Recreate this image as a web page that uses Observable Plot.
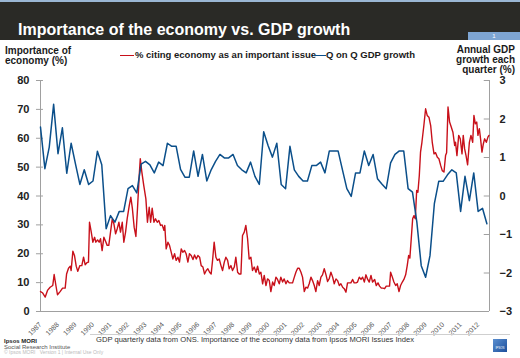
<!DOCTYPE html>
<html><head><meta charset="utf-8">
<script src="https://cdn.jsdelivr.net/npm/d3@7"></script>
<script src="https://cdn.jsdelivr.net/npm/@observablehq/plot@0.6"></script>
<style>
body{margin:0;background:#fff;}
#page{position:relative;width:520px;height:358px;overflow:hidden;font-family:"Liberation Sans",Arial,sans-serif;background:#fff;}
#header{position:absolute;left:0;top:0;width:520px;height:40px;background:#2a2a26;border-top:2px solid #9ab6d3;box-sizing:border-box;}
#title{position:absolute;left:18px;top:20px;color:#fff;font-weight:bold;font-size:16px;line-height:16px;white-space:nowrap;}
#pagebox{position:absolute;left:468px;top:32px;width:52px;height:8px;background:#7ea5d2;color:#fff;font-size:6px;line-height:8px;text-align:center;}
.atitle{position:absolute;font-weight:bold;font-size:10px;line-height:10px;color:#1a1a1a;white-space:nowrap;}
#ltitle{left:5px;top:45.5px;}
#rtitle{right:5px;top:44.5px;text-align:right;}
.lg{position:absolute;font-weight:bold;font-size:9.5px;line-height:9.5px;top:50px;color:#1a1a1a;white-space:nowrap;}
.sw{position:absolute;top:54.5px;height:1.5px;}
#chart{position:absolute;left:0;top:70px;}
#sep{position:absolute;left:90px;top:334px;width:420px;height:1px;background:#cfcfcf;}
#source{position:absolute;left:96px;top:336px;font-size:7.6px;line-height:7.6px;color:#333;white-space:nowrap;}
.foot{position:absolute;left:4px;white-space:nowrap;}
#logo{position:absolute;left:493px;top:339px;width:14px;height:13px;background:linear-gradient(135deg,#5b8fd0,#1c4f9c);color:#fff;font-size:3px;line-height:3px;text-align:center;}
</style></head>
<body>
<div id="page">
  <div id="header"><div id="title">Importance of the economy vs. GDP growth</div></div>
  <div id="pagebox">1</div>
  <div class="atitle" id="ltitle">Importance of<br>economy (%)</div>
  <div class="atitle" id="rtitle">Annual GDP<br>growth each<br>quarter (%)</div>
  <div class="sw" style="left:120px;width:14px;background:#c8101a"></div>
  <div class="lg" style="left:135px">% citing economy as an important issue</div>
  <div class="sw" style="left:313px;width:13px;background:#0b4f8a"></div>
  <div class="lg" style="left:326px">Q on Q GDP growth</div>
  <div id="chart"></div>
  <div id="sep"></div>
  <div id="source">GDP quarterly data from ONS. Importance of the economy data from Ipsos MORI Issues Index</div>
  <div class="foot" style="top:337.5px;font-size:6px;line-height:6px;font-weight:bold;color:#222">Ipsos MORI</div>
  <div class="foot" style="top:343.5px;font-size:6px;line-height:6px;color:#555">Social Research Institute</div>
  <div class="foot" style="top:349.5px;font-size:5px;line-height:5px;color:#bbb">© Ipsos MORI &nbsp; Version 1 | Internal Use Only</div>
  <div id="logo"><div style="padding-top:8px">IPSOS</div></div>
</div>
<script>
// ---- Data ----
const yearTicks = [1987,1988,1989,1990,1991,1992,1993,1994,1995,1996,1997,1998,1999,2000,2001,2002,2003,2004,2005,2006,2007,2008,2009,2010,2011,2012];
const leftTicks = [0,10,20,30,40,50,60,70,80];
const rightTicks = [-3,-2,-1,0,1,2,3];

// Q on Q GDP growth (%), quarterly from 1987 Q1
const gdpStartYear = 1987;
const gdpGrowth = [
 1.79,0.71,1.27,2.38, 1.10,1.77,0.59,1.37, 0.83,0.30,0.68,0.30, 0.39,1.16,0.81,-0.85,
 -0.51,-0.68,-0.40,-0.40, 0.19,0.27,0.08,0.83, 0.90,0.81,0.60,0.88, 0.79,1.37,1.29,1.29,
 0.69,0.49,0.49,1.17, 0.51,1.08,0.39,0.68, 0.90,1.08,0.99,0.99, 1.08,0.79,0.68,0.60,
 0.88,0.51,0.30,1.67, 1.31,1.01,1.37,0.30, 0.19,1.29,0.68,0.51, 0.39,0.39,0.79,0.79,
 0.88,0.60,1.17,1.17, 1.17,0.68,0.19,-0.01, 0.60,0.60,1.17,0.79, 1.08,0.45,0.31,0.19,
 0.86,1.08,1.17,1.17, 0.19,0.10,-0.68,-1.81, -2.11,-1.55,-0.20,0.38, 0.38,0.55,0.68,0.60,
 -0.40,0.51,-0.12,0.60, -0.40,-0.32,-0.72
];

// % citing economy as an important issue (date as decimal year, value %)
const econYear = [
 1987.00,1987.11,1987.27,1987.40,1987.55,1987.70,1987.78,1987.88,1987.97,1988.12,1988.26,1988.41,1988.49,1988.60,1988.70,1988.75,1988.85,1988.94,
 1989.04,1989.13,1989.25,1989.36,1989.46,1989.55,1989.65,1989.74,1989.80,1989.90,1989.99,1990.09,1990.16,1990.26,1990.35,1990.43,1990.52,1990.62,
 1990.71,1990.81,1990.90,1991.00,1991.10,1991.19,1991.29,1991.38,1991.48,1991.57,1991.67,1991.76,1991.86,1991.95,1992.07,1992.16,1992.25,1992.35,
 1992.45,1992.54,1992.64,1992.70,1992.79,1992.90,1993.02,1993.11,1993.21,
 1993.29,1993.38,1993.48,1993.57,1993.67,1993.76,1993.86,1993.95,1994.05,1994.10,1994.18,1994.28,1994.37,1994.47,1994.56,1994.66,1994.75,1994.85,
 1994.94,1995.04,1995.13,1995.23,1995.32,1995.42,1995.51,1995.61,1995.71,1995.80,1995.90,1995.99,1996.09,1996.18,1996.28,1996.37,1996.47,1996.56,
 1996.66,1996.75,1996.83,1996.92,1997.02,1997.11,1997.21,1997.31,1997.40,1997.50,1997.59,1997.69,1997.78,1997.88,1997.97,1998.07,1998.16,1998.26,
 1998.35,1998.45,1998.54,1998.64,1998.73,1998.83,1998.92,1999.02,1999.11,1999.21,1999.31,1999.40,1999.50,1999.59,
 1999.69,1999.78,1999.88,1999.97,2000.07,2000.16,2000.26,2000.35,2000.45,2000.54,2000.64,2000.73,2000.83,2000.92,2001.02,2001.11,2001.21,2001.31,
 2001.40,2001.50,2001.59,2001.69,2001.78,2001.88,2001.97,2002.07,2002.16,2002.26,2002.35,2002.45,2002.54,2002.64,2002.73,2002.83,2002.92,2003.02,
 2003.11,2003.21,2003.31,2003.40,2003.50,2003.59,2003.69,2003.78,2003.88,2003.97,2004.07,2004.16,2004.26,2004.35,2004.45,2004.54,2004.64,2004.73,
 2004.83,2004.92,2005.02,2005.11,2005.21,2005.31,2005.40,2005.50,2005.59,2005.69,2005.78,2005.88,2005.97,
 2006.09,2006.18,2006.28,2006.37,2006.47,2006.56,2006.66,2006.75,2006.85,2006.94,2007.00,2007.10,2007.19,2007.29,2007.38,2007.48,2007.57,2007.67,
 2007.76,2007.86,2007.95,2008.03,2008.10,2008.18,2008.26,2008.33,2008.41,2008.49,2008.56,2008.64,2008.71,2008.79,2008.90,2009.00,2009.09,2009.19,
 2009.29,2009.38,2009.48,2009.57,2009.67,2009.76,2009.86,2009.95,2010.05,2010.14,2010.20,2010.28,2010.37,2010.47,2010.56,2010.66,2010.71,2010.79,
 2010.89,2010.98,2011.08,2011.15,2011.23,2011.31,2011.40,2011.50,2011.59,2011.69,2011.76,2011.84,2011.92,2011.99,2012.07,2012.14,2012.22,2012.30,
 2012.37,2012.47,2012.56,2012.62
];
const econPct = [
 6.9,6.5,5.0,7.3,8.4,9.0,12.8,9.0,5.8,6.9,8.1,8.1,13.0,15.0,15.7,14.2,20.9,19.4,
 15.7,13.9,15.9,15.9,18.8,16.2,16.9,17.1,30.9,27.5,24.0,25.7,24.0,24.8,24.0,25.2,21.1,25.7,
 24.4,22.9,22.9,27.5,32.1,30.4,26.9,28.6,30.9,27.5,30.9,24.0,27.5,32.1,36.7,39.6,35.6,29.2,
 26.0,35.6,47.1,52.9,48.3,43.6,39.0,30.9,36.1,
 30.9,35.8,30.9,32.1,30.9,31.5,29.8,30.0,28.1,29.8,21.7,24.0,22.9,20.5,18.2,20.0,17.7,18.8,
 17.1,21.7,20.5,21.1,20.0,17.1,20.0,19.4,18.0,19.6,18.2,19.4,18.8,15.9,15.4,13.0,14.2,14.8,
 13.6,13.0,17.7,24.0,18.8,17.7,18.2,15.9,14.2,17.1,18.8,17.7,14.8,15.9,14.2,15.4,18.8,13.6,
 13.0,13.0,26.3,27.5,29.8,25.2,18.2,18.8,14.2,15.4,13.6,15.7,13.0,13.6,
 9.6,12.5,9.0,11.3,10.7,6.9,10.2,9.0,11.9,11.1,9.6,11.9,10.2,11.3,9.6,10.7,9.9,9.9,
 9.9,11.9,13.6,15.0,15.0,13.6,11.9,6.9,8.4,8.1,9.6,11.9,10.7,9.0,6.9,10.7,9.0,11.9,
 12.7,14.8,12.7,10.4,11.5,13.6,11.9,9.6,11.3,10.7,9.0,9.6,8.4,7.9,6.7,9.9,9.9,9.9,
 11.1,9.9,9.9,10.2,11.9,11.1,11.9,10.2,12.7,11.1,10.2,12.5,10.2,
 11.1,9.0,9.9,8.8,8.1,8.1,7.9,8.8,8.8,8.8,13.6,11.9,10.2,9.0,9.6,6.9,9.0,10.2,
 11.1,12.7,15.9,19.4,18.5,25.2,32.1,33.2,32.1,41.9,41.3,47.1,55.2,58.6,64.4,70.2,67.9,67.3,
 64.4,58.6,54.6,55.0,53.4,52.9,50.6,48.8,48.3,54.0,55.0,70.8,65.6,63.8,62.1,57.5,58.6,54.0,
 61.0,59.8,54.6,61.0,56.3,54.0,50.8,58.6,61.0,58.6,67.9,65.0,65.6,61.0,63.3,59.8,55.2,58.1,
 59.8,58.6,60.4,61.0
];

// ---- Build ----
const RED = "#c8101a", BLUE = "#0b4f8a", AXIS = "#a0a0a0";
const leftMax = 80, rightMin = -3, rightMax = 3;
const toLeft = g => (g - rightMin) * leftMax / (rightMax - rightMin);
const xDomain = [1987, 2012.65];

const econ = econYear.map((t, i) => ({t, v: econPct[i]}));
const gdp = gdpGrowth.map((g, i) => ({t: gdpStartYear + i / 4, v: toLeft(g)}));
const rightPos = rightTicks.map(toLeft);
const fmtRight = d => { const g = Math.round(d * 6 / 80 - 3); return g < 0 ? "\u2212" + Math.abs(g) : String(g); };

const chart = Plot.plot({
  width: 520, height: 288,
  marginTop: 10, marginBottom: 47, marginLeft: 40, marginRight: 31,
  style: {fontFamily: "'Liberation Sans', Arial, sans-serif", background: "transparent", color: "#222", overflow: "visible"},
  x: {domain: xDomain, label: null},
  y: {domain: [0, leftMax], label: null},
  marks: [
    Plot.ruleX([xDomain[0]], {stroke: AXIS}),
    Plot.ruleX([xDomain[1]], {stroke: AXIS}),
    Plot.ruleY([0], {stroke: AXIS}),
    Plot.ruleY(leftTicks, {x1: xDomain[0] - 0.23, x2: xDomain[0] + 0.17, stroke: AXIS}),
    Plot.ruleY(rightPos, {x1: xDomain[1] - 0.3, x2: xDomain[1], stroke: AXIS}),
    Plot.axisY(leftTicks, {anchor: "left", tickSize: 0, tickPadding: 11, fontSize: 11, fontWeight: "bold", fill: "#222", label: null}),
    Plot.axisY(rightPos, {anchor: "right", tickSize: 0, tickPadding: 10, tickFormat: fmtRight, fontSize: 11, fontWeight: "bold", fill: "#222", label: null}),
    Plot.axisX(yearTicks, {anchor: "bottom", tickSize: 0, tickPadding: 12, tickRotate: -45, tickFormat: d => String(d), fontSize: 7, fill: "#555", label: null}),
    Plot.line(econ, {x: "t", y: "v", stroke: RED, strokeWidth: 1.4}),
    Plot.line(gdp, {x: "t", y: "v", stroke: BLUE, strokeWidth: 1.5})
  ]
});
document.getElementById("chart").appendChild(chart);
</script>
</body></html>
